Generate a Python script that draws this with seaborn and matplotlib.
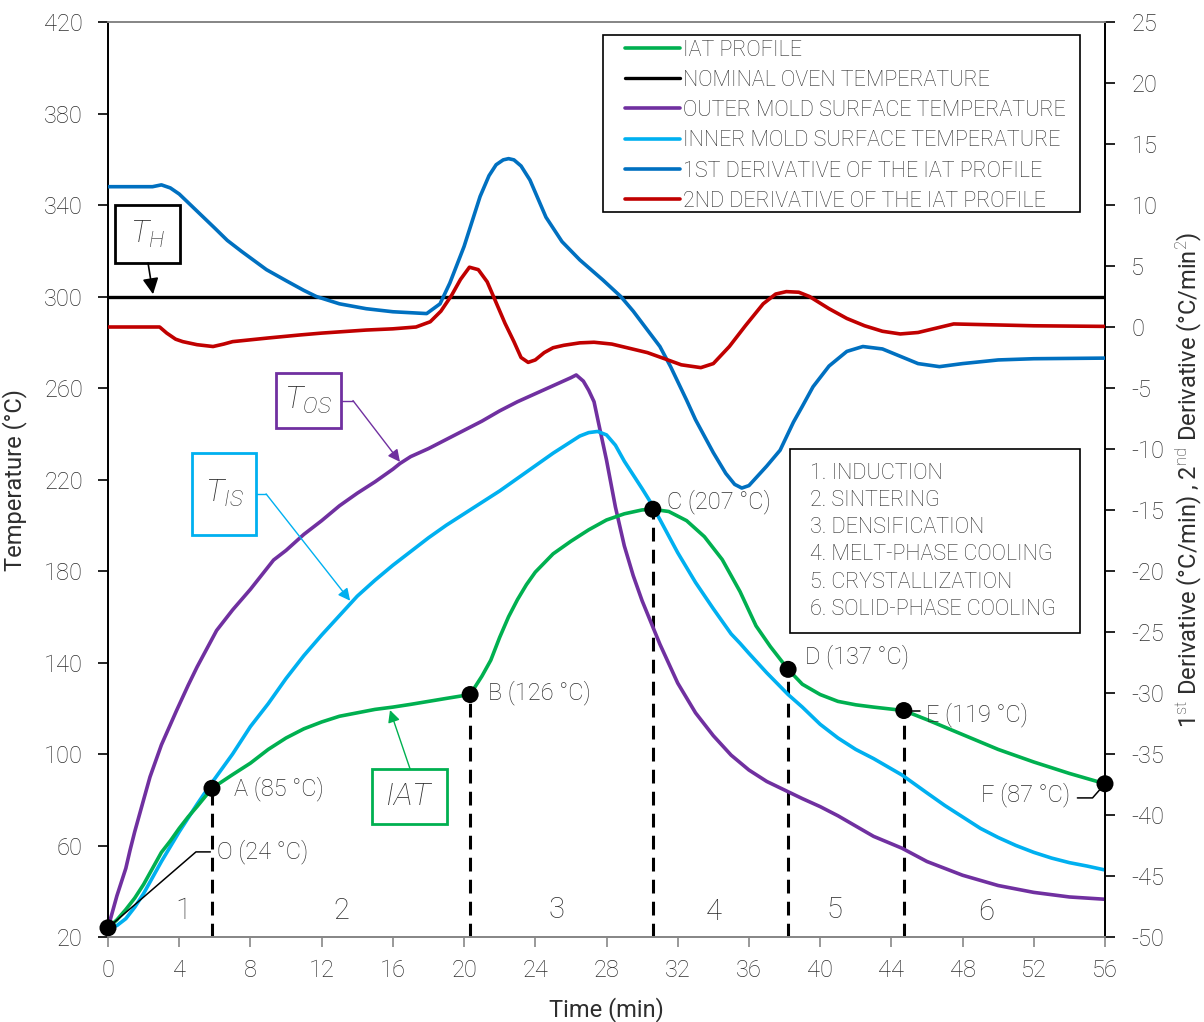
import matplotlib
matplotlib.use('Agg')
import matplotlib.pyplot as plt
import seaborn as sns
from matplotlib.patches import Rectangle

# ---------------- data ----------------
iat_t = [0, 0.5, 1, 1.5, 2, 2.5, 3, 3.5, 4, 4.5, 5, 5.84, 7, 8, 9, 10, 11, 12, 13, 14, 15, 16, 17, 18, 19,
         20.34, 21, 21.5, 22, 22.5, 23, 23.5, 24, 25, 26, 27, 28, 29, 30, 30.6, 31.5, 32.5, 33.5, 34.5, 35.5,
         36.4, 37.2, 38.2, 39, 40, 41, 42, 43, 44.7, 46, 48, 50, 52, 54, 56]
iat_T = [24, 27.5, 32, 37, 43, 50, 57, 62, 67.5, 72.5, 77, 85, 91, 96, 102, 107, 111, 114, 116.5, 118, 119.5,
         120.5, 121.7, 123, 124.3, 126, 134, 141, 151, 160, 167.5, 174, 179.5, 187.5, 193, 198, 202.3, 205,
         206.7, 207, 206, 202, 195, 185, 171, 156, 147, 137, 130.5, 126, 123, 121.5, 120.5, 119, 115,
         108.5, 102, 96.5, 91.5, 87]

oven_t = [0, 56]
oven_T = [300, 300]

outer_t = [0, 0.5, 1, 1.24, 1.5, 2, 2.36, 3, 3.85, 4.5, 5, 6.1, 7, 8, 9.3, 10, 11, 12, 13, 14, 15, 16, 16.4, 17,
           18, 19, 20, 21, 22, 23, 24, 25, 26, 26.3, 26.7, 27, 27.3, 27.6, 28, 28.5, 29, 29.5, 30, 30.6, 31,
           32, 33, 34, 35, 36, 37, 38.2, 39, 40, 41, 42, 43, 44.6, 46, 48, 50, 52, 54, 56]
outer_T = [24, 38, 50, 58, 66, 80, 90, 104, 119, 130, 138, 154, 163, 172, 184.8, 189, 196, 202, 208.5, 214,
           219, 224.5, 227, 230, 233.5, 237.5, 241.5, 245.5, 250, 254, 257.5, 261, 264.5, 265.7, 263, 259,
           254, 243, 228.5, 208, 191, 178, 167, 155.6, 148, 131, 118, 108, 99.5, 93, 88, 83.5, 80.5, 77, 73,
           68.5, 64, 58.8, 53, 47, 42.5, 39.5, 37.5, 36.5]

inner_t = [0, 0.5, 1, 1.5, 2, 2.5, 3, 3.5, 4, 5, 5.7, 7, 8, 9, 10, 11, 12, 13, 14, 15, 16, 17, 18, 19, 20, 21,
           22, 23, 24, 25, 26, 26.5, 27, 27.5, 28, 28.5, 29, 29.5, 30, 30.4, 31, 32, 33, 34, 35, 35.5, 36, 37,
           38.2, 39, 40, 41, 42, 43, 44.6, 46, 47, 48, 49, 50, 51, 52, 53, 54, 55, 56]
inner_T = [24, 25, 28, 33, 39, 46, 53, 59.5, 66, 78, 86, 100, 112, 122, 133, 143, 152, 160.5, 169, 176, 182.5,
           188.5, 194.5, 200, 205, 210, 215, 220.5, 226, 231.5, 236.5, 239, 240.5, 241, 239.5, 235, 228, 222,
           216, 211, 202.5, 188, 175, 163.5, 152.5, 148.4, 144, 135.5, 126, 120.5, 113, 107, 102, 98, 90.8,
           83, 77.5, 72.5, 67.5, 63.5, 60, 57, 54.5, 52.5, 51, 49.3]

d1_t = [0, 2.5, 3, 3.5, 4, 5, 6, 6.7, 7.5, 8.9, 10, 11, 11.7, 13, 14.5, 16, 17.9, 18.65, 19.2, 20, 20.9, 21.4,
        21.8, 22.2, 22.5, 22.8, 23.2, 23.7, 24.6, 25.5, 26.5, 27.8, 28.8, 29.5, 30.3, 31, 31.6, 32.5, 33, 34,
        34.7, 35.2, 35.6, 36, 36.5, 37, 37.75, 38.5, 39, 39.6, 40.5, 41.5, 42.4, 43.5, 44.5, 45.5, 46.7, 48,
        50, 52, 56]
d1_v = [11.5, 11.5, 11.65, 11.4, 10.9, 9.5, 8.1, 7.1, 6.2, 4.7, 3.8, 3.0, 2.5, 1.9, 1.5, 1.25, 1.1, 1.9, 3.6,
        6.6, 10.7, 12.4, 13.3, 13.7, 13.8, 13.7, 13.2, 12.05, 9.0, 7.0, 5.5, 3.85, 2.5, 1.3, -0.25, -1.6,
        -3.25, -6.0, -7.6, -10.3, -12.0, -12.9, -13.2, -13.0, -12.2, -11.4, -10.1, -7.8, -6.5, -4.9, -3.2,
        -2.0, -1.6, -1.8, -2.4, -3.0, -3.25, -3.0, -2.7, -2.6, -2.55]

d2_t = [0, 2.9, 3.3, 3.8, 4.2, 5, 5.9, 6.5, 7, 8, 9, 10.8, 12, 13, 14.5, 16, 17.3, 18.1, 18.7, 19.3, 19.8, 20.3,
        20.8, 21.3, 21.8, 22.3, 22.8, 23.2, 23.6, 24, 24.5, 25, 25.6, 26.5, 27.3, 28.3, 29.3, 30.3, 31.2, 32.2,
        33.3, 34, 34.9, 35.8, 36.8, 37.5, 38.1, 38.8, 39.4, 40.5, 41.5, 42.5, 43.5, 44.5, 45.5, 46.5, 47.5, 49,
        52, 56]
d2_v = [0, 0, -0.5, -1.0, -1.2, -1.45, -1.6, -1.4, -1.2, -1.05, -0.9, -0.65, -0.5, -0.4, -0.25, -0.15, 0, 0.43,
        1.3, 2.6, 3.9, 4.9, 4.7, 3.7, 2.0, 0.3, -1.2, -2.5, -2.9, -2.7, -2.1, -1.7, -1.5, -1.3, -1.25, -1.4,
        -1.75, -2.1, -2.57, -3.1, -3.33, -3.0, -1.6, 0.1, 1.9, 2.7, 2.9, 2.85, 2.5, 1.5, 0.7, 0.1, -0.35,
        -0.57, -0.45, -0.1, 0.25, 0.2, 0.1, 0.05]

point_labels = ['O', 'A', 'B', 'C', 'D', 'E', 'F']
point_t = [0, 5.84, 20.34, 30.6, 38.2, 44.7, 56]
point_T = [24, 85, 126, 207, 137, 119, 87]

phase_names = ['1. INDUCTION', '2. SINTERING', '3. DENSIFICATION', '4. MELT-PHASE COOLING',
               '5. CRYSTALLIZATION', '6. SOLID-PHASE COOLING']
phase_nums = ['1', '2', '3', '4', '5', '6']

series_labels = ['IAT PROFILE', 'NOMINAL OVEN TEMPERATURE', 'OUTER MOLD SURFACE TEMPERATURE',
                 'INNER MOLD SURFACE TEMPERATURE', '1ST DERIVATIVE OF THE IAT PROFILE',
                 '2ND DERIVATIVE OF THE IAT PROFILE']

x_ticks = list(range(0, 57, 4))
left_ticks = list(range(20, 421, 40))
right_ticks = list(range(-50, 26, 5))

# ---------------- style ----------------
sns.set_style('ticks')
FONT = ['Roboto', 'DejaVu Sans']
plt.rcParams['font.family'] = FONT
plt.rcParams['font.weight'] = 'light'
plt.rcParams['axes.unicode_minus'] = False
plt.rcParams['mathtext.fontset'] = 'custom'
plt.rcParams['mathtext.rm'] = 'Roboto:light'
plt.rcParams['mathtext.it'] = 'Roboto:italic:light'
plt.rcParams['mathtext.bf'] = 'Roboto:bold'
TXT = '#2e2e2e'
GREEN, BLACK, PURPLE, CYAN, BLUE, RED = '#00B050', '#000000', '#7030A0', '#00B0F0', '#0070C0', '#C00000'
GRAY = '#878787'
LW = 2.6

fig = plt.figure(figsize=(12.04, 10.22), dpi=100)
ax = fig.add_axes([108 / 1204, 85 / 1022, 997 / 1204, 915 / 1022])
ax2 = ax.twinx()

sns.lineplot(x=iat_t, y=iat_T, ax=ax, color=GREEN, lw=LW, label=series_labels[0], legend=False, zorder=4)
sns.lineplot(x=oven_t, y=oven_T, ax=ax, color=BLACK, lw=2.4, label=series_labels[1], legend=False, zorder=3)
sns.lineplot(x=outer_t, y=outer_T, ax=ax, color=PURPLE, lw=LW, label=series_labels[2], legend=False, zorder=3)
sns.lineplot(x=inner_t, y=inner_T, ax=ax, color=CYAN, lw=LW, label=series_labels[3], legend=False, zorder=3)
sns.lineplot(x=d1_t, y=d1_v, ax=ax2, color=BLUE, lw=LW, label=series_labels[4], legend=False, zorder=3)
sns.lineplot(x=d2_t, y=d2_v, ax=ax2, color=RED, lw=LW, label=series_labels[5], legend=False, zorder=3)
for a in (ax, ax2):
    for ln in a.get_lines():
        ln.set_solid_joinstyle('round')

ax.set_xlim(0, 56)
ax.set_ylim(20, 420)
ax2.set_ylim(-50, 25)
ax.set_xticks(x_ticks)
ax.set_yticks(left_ticks)
ax2.set_yticks(right_ticks)

# phase dashed lines and points
for i in range(1, 6):
    ax.plot([point_t[i], point_t[i]], [20, point_T[i]], color='black', lw=2.2, dashes=(4.5, 2.7), zorder=2,
            solid_capstyle='butt')
sns.scatterplot(x=point_t, y=point_T, ax=ax, color='black', s=150, edgecolor='none', zorder=6,
                clip_on=False, legend=False)

lab_fs = 17
def ptxt(i, x, y, ha='left'):
    ax.text(x, y, f'{point_labels[i]} ({point_T[i]} °C)', ha=ha, va='center', fontsize=lab_fs, color=TXT,
            zorder=7)

# O leader
ax.plot([point_t[0], 4.94, 5.75], [point_T[0], 57.2, 57.2], color='black', lw=1.1, zorder=5)
ptxt(0, 6.15, 57.5)
ptxt(1, 7.1, 85)
ptxt(2, 21.35, 126.7)
ptxt(3, 31.4, 210.2)
ptxt(4, 39.15, 142.4)
ax.plot([point_t[5], 45.6], [118.7, 118.7], color='black', lw=1.1, zorder=5)
ptxt(5, 45.95, 117)
ax.plot([54.45, 55.3, point_t[6]], [80.8, 80.8, point_T[6]], color='black', lw=1.1, zorder=5, clip_on=False)
ptxt(6, 54.05, 82.2, ha='right')

# phase numbers
for n, (x, y) in zip(phase_nums, [(4.2, 31.5), (13.1, 31.5), (25.2, 32), (34.0, 31), (40.8, 32), (49.3, 31)]):
    ax.text(x, y, n, ha='center', va='center', fontsize=21, color=TXT, zorder=5)

# callout boxes (pixel sizes converted to data units)
PX_T = 56 / 997
PX_Y = 400 / 915
def callout(cx, cy, wpx, hpx, color, text):
    w, h = wpx * PX_T, hpx * PX_Y
    ax.add_patch(Rectangle((cx - w / 2, cy - h / 2), w, h, fc='white', ec=color, lw=2.0, zorder=6))
    ax.text(cx, cy, text, ha='center', va='center', fontsize=23, color=TXT, zorder=7)

callout(2.22, 327.3, 65, 58, 'black', r'$\mathit{T}_{\mathit{H}}$')
callout(11.26, 254.5, 65, 55, PURPLE, r'$\mathit{T}_{\mathit{OS}}$')
callout(6.52, 213.7, 64, 82, CYAN, r'$\mathit{T}_{\mathit{IS}}$')
callout(16.94, 81.4, 75, 55, GREEN, r'$\mathit{IAT}$')

def arrow(p0, p1, color, lw=1.0, ms=18):
    ax.annotate('', xy=p1, xytext=p0, zorder=6,
                arrowprops=dict(arrowstyle='-|>', color=color, lw=lw, mutation_scale=ms,
                                shrinkA=0, shrinkB=0))

arrow((2.25, 314.6), (2.53, 301.0), 'black', lw=1.2, ms=24)
ax.plot([13.09, 13.76], [254.5, 254.5], color=PURPLE, lw=1.0, zorder=6)
arrow((13.76, 254.5), (16.4, 227.7), PURPLE)
ax.plot([8.31, 8.88], [213.7, 213.7], color=CYAN, lw=1.0, zorder=6)
arrow((8.88, 213.7), (13.6, 167.0), CYAN)
arrow((16.97, 93.4), (15.84, 119.2), GREEN)

# legend (frame drawn separately to match asymmetric padding)
h1, l1 = ax.get_legend_handles_labels()
h2, l2 = ax2.get_legend_handles_labels()
hd = dict(zip(l1 + l2, h1 + h2))
ax2.add_patch(Rectangle(((603 - 108) / 997, (937 - 212) / 915), 477 / 997, 177 / 915,
                        transform=ax2.transAxes, fc='white', ec='black', lw=1.2, zorder=9))
leg = ax2.legend([hd[l] for l in series_labels], series_labels, loc='upper left',
                 bbox_to_anchor=((625 - 108) / 997, (937 - 39.5) / 915), frameon=False,
                 fontsize=15.5, handlelength=2.55, handletextpad=0.14, labelspacing=0.43,
                 borderpad=0, borderaxespad=0, labelcolor=TXT)
leg.set_zorder(10)

# phase list box
ax2.add_patch(Rectangle((0.684, 0.3322), 0.291, 0.2011, transform=ax2.transAxes, fc='white', ec='black',
                        lw=1.2, zorder=8))
for k, name in enumerate(phase_names):
    ypx = 473 + k * 27.3
    ax2.text(0.7045, (937 - ypx) / 915, name, transform=ax2.transAxes, ha='left', va='center',
             fontsize=15.5, color=TXT, zorder=9)

# axes styling
for a in (ax, ax2):
    a.spines['top'].set_color(GRAY)
    a.spines['bottom'].set_color(GRAY)
    a.spines['left'].set_color('black')
    a.spines['right'].set_color('black')
    for s in a.spines.values():
        s.set_linewidth(1.3)
ax.tick_params(axis='x', direction='out', length=7, width=1.2, color=GRAY, labelsize=17, labelcolor=TXT, pad=9)
ax.tick_params(axis='y', direction='out', length=7, width=1.2, color='black', labelsize=17, labelcolor=TXT,
               pad=11)
ax2.tick_params(axis='y', direction='out', length=7, width=1.2, color='black', labelsize=17, labelcolor=TXT,
                pad=12)
ax.set_xlabel('Time (min)', fontsize=17, color=TXT, labelpad=11)
ax.set_ylabel('Temperature (°C)', fontsize=17, color=TXT, labelpad=12)
ax2.set_ylabel(r'1$^{\mathrm{st}}$ Derivative (°C/min) , 2$^{\mathrm{nd}}$ Derivative (°C/min$^{2}$)',
               fontsize=17, color=TXT, labelpad=6)

fig.savefig('out.png', dpi=100)
